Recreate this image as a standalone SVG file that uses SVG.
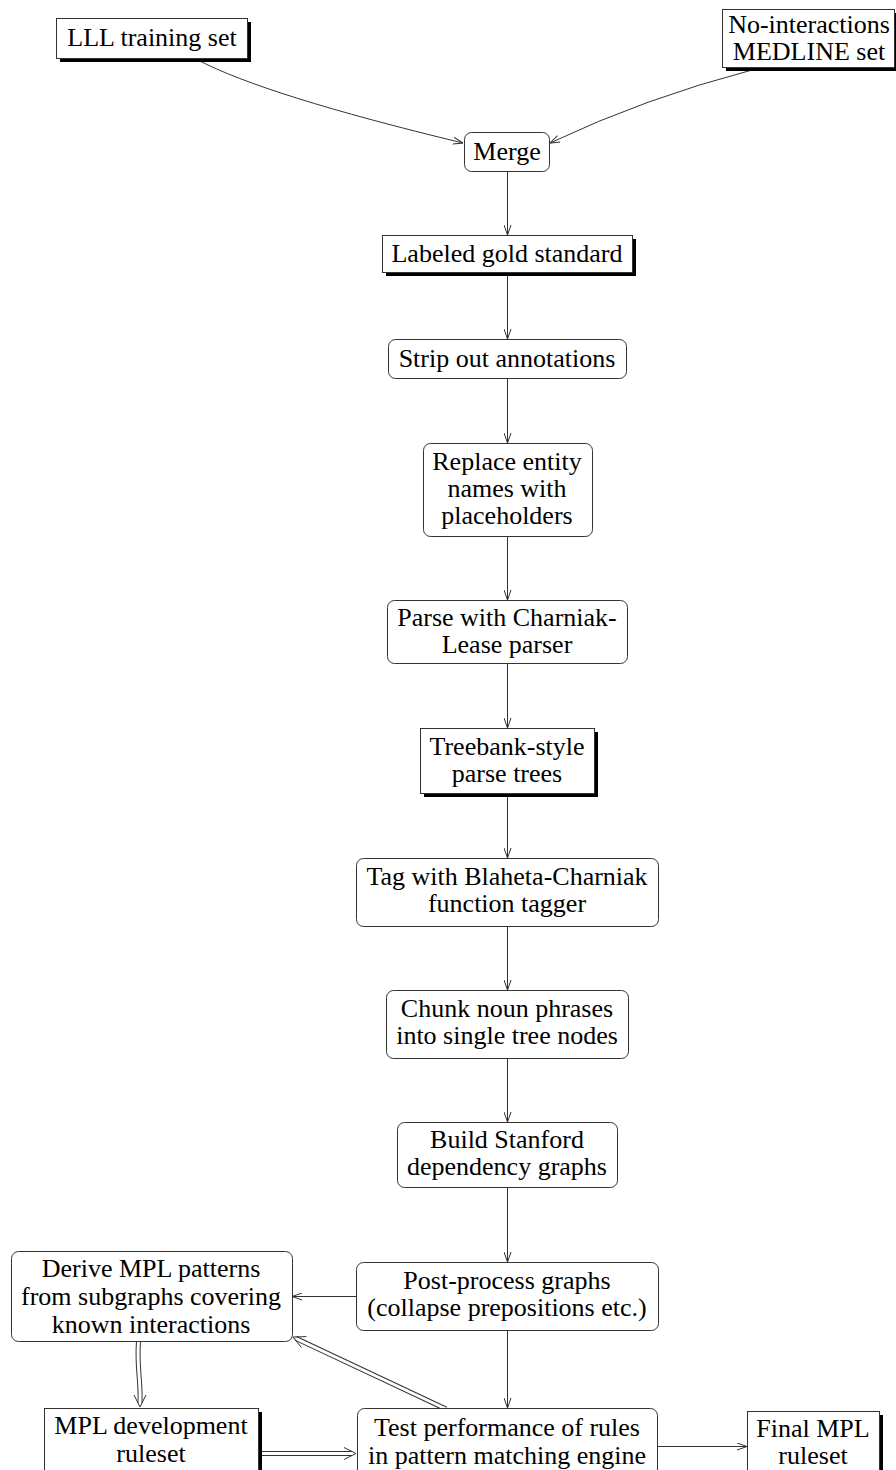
<svg xmlns="http://www.w3.org/2000/svg" width="896" height="1470" viewBox="0 0 896 1470">
  <defs>
    <style>
      .box { fill: #fff; stroke: #333; stroke-width: 1; }
      .shadow { fill: #000; }
      .lbl { font-family: "Liberation Serif", "Times New Roman", serif; font-size: 26px; fill: #000; text-anchor: middle; }
      .edge { fill: none; stroke: #333; stroke-width: 1; }
      .dbl-out { fill: none; stroke: #333; stroke-width: 5; }
      .dbl-in { fill: none; stroke: #fff; stroke-width: 3; }
      .head { fill: none; stroke: #333; stroke-width: 1; }
    </style>
    <marker id="arrow" viewBox="0 0 10 8" refX="10" refY="4" markerWidth="10" markerHeight="8" markerUnits="userSpaceOnUse" orient="auto">
      <path d="M0,0.5 L10,4 L0,7.5" fill="none" stroke="#333" stroke-width="1"/>
    </marker>
  </defs>
  <rect width="896" height="1470" fill="#fff"/>

  <!-- connectors -->
  <g id="edges">
    <path class="edge" d="M198,60 Q264,95 463,143" marker-end="url(#arrow)"/>
    <path class="edge" d="M752,70 Q645,98 550,143" marker-end="url(#arrow)"/>
    <path class="edge" d="M507.5,171 L507.5,235" marker-end="url(#arrow)"/>
    <path class="edge" d="M507.5,276 L507.5,339" marker-end="url(#arrow)"/>
    <path class="edge" d="M507.5,378 L507.5,443" marker-end="url(#arrow)"/>
    <path class="edge" d="M507.5,536 L507.5,600" marker-end="url(#arrow)"/>
    <path class="edge" d="M507.5,663 L507.5,728" marker-end="url(#arrow)"/>
    <path class="edge" d="M507.5,796 L507.5,858" marker-end="url(#arrow)"/>
    <path class="edge" d="M507.5,926 L507.5,990" marker-end="url(#arrow)"/>
    <path class="edge" d="M507.5,1058 L507.5,1122" marker-end="url(#arrow)"/>
    <path class="edge" d="M507.5,1187 L507.5,1262" marker-end="url(#arrow)"/>
    <path class="edge" d="M356,1296.5 L292,1296.5" marker-end="url(#arrow)"/>
    <path class="edge" d="M507.5,1330 L507.5,1408" marker-end="url(#arrow)"/>
    <path class="edge" d="M657,1446.5 L747,1446.5" marker-end="url(#arrow)"/>

    <!-- double-line arrows -->
    <path class="dbl-out" d="M138.5,1341 C136.5,1368 141,1380 140,1403"/>
    <path class="dbl-in" d="M138.5,1341 C136.5,1368 141,1380 140,1403"/>
    <path class="head" d="M134,1395 L140,1407 L146,1395"/>

    <path class="dbl-out" d="M262,1453.5 L352,1453.5"/>
    <path class="dbl-in" d="M262,1453.5 L352,1453.5"/>
    <path class="head" d="M344,1447.5 L356,1453.5 L344,1459.5"/>

    <path class="dbl-out" d="M446,1409 L295.7,1338.3"/>
    <path class="dbl-in" d="M446,1409 L295.7,1338.3"/>
    <path class="head" d="M306.4,1336.6 L293,1337 L301.4,1347.5"/>
  </g>

  <!-- nodes -->
  <g id="n_lll">
    <rect class="shadow" x="60" y="22" width="191" height="40"/>
    <rect class="box" x="56.5" y="18.5" width="191" height="40"/>
    <text class="lbl" x="152" y="46">LLL training set</text>
  </g>
  <g id="n_nomedline">
    <rect class="shadow" x="726" y="13" width="173" height="58"/>
    <rect class="box" x="722.5" y="9.5" width="172" height="58"/>
    <text class="lbl" x="809" y="33">No-interactions</text>
    <text class="lbl" x="809" y="60">MEDLINE set</text>
  </g>
  <g id="n_merge">
    <rect class="box" x="464.5" y="132.5" width="85" height="39" rx="7"/>
    <text class="lbl" x="507" y="160">Merge</text>
  </g>
  <g id="n_gold">
    <rect class="shadow" x="386" y="239" width="250" height="37"/>
    <rect class="box" x="382.5" y="235.5" width="250" height="37"/>
    <text class="lbl" x="507" y="262">Labeled gold standard</text>
  </g>
  <g id="n_strip">
    <rect class="box" x="388.5" y="339.5" width="238" height="39" rx="7"/>
    <text class="lbl" x="507" y="367">Strip out annotations</text>
  </g>
  <g id="n_replace">
    <rect class="box" x="423.5" y="443.5" width="169" height="93" rx="7"/>
    <text class="lbl" x="507" y="470">Replace entity</text>
    <text class="lbl" x="507" y="497">names with</text>
    <text class="lbl" x="507" y="524">placeholders</text>
  </g>
  <g id="n_parse">
    <rect class="box" x="387.5" y="600.5" width="240" height="63" rx="7"/>
    <text class="lbl" x="507" y="626">Parse with Charniak-</text>
    <text class="lbl" x="507" y="653">Lease parser</text>
  </g>
  <g id="n_treebank">
    <rect class="shadow" x="424" y="732" width="174" height="65"/>
    <rect class="box" x="420.5" y="728.5" width="174" height="65"/>
    <text class="lbl" x="507" y="755">Treebank-style</text>
    <text class="lbl" x="507" y="782">parse trees</text>
  </g>
  <g id="n_tag">
    <rect class="box" x="356.5" y="858.5" width="302" height="68" rx="7"/>
    <text class="lbl" x="507" y="885">Tag with Blaheta-Charniak</text>
    <text class="lbl" x="507" y="912">function tagger</text>
  </g>
  <g id="n_chunk">
    <rect class="box" x="386.5" y="990.5" width="242" height="68" rx="7"/>
    <text class="lbl" x="507" y="1017">Chunk noun phrases</text>
    <text class="lbl" x="507" y="1044">into single tree nodes</text>
  </g>
  <g id="n_build">
    <rect class="box" x="397.5" y="1122.5" width="220" height="65" rx="7"/>
    <text class="lbl" x="507" y="1148">Build Stanford</text>
    <text class="lbl" x="507" y="1175">dependency graphs</text>
  </g>
  <g id="n_post">
    <rect class="box" x="356.5" y="1262.5" width="302" height="68" rx="7"/>
    <text class="lbl" x="507" y="1289">Post-process graphs</text>
    <text class="lbl" x="507" y="1316">(collapse prepositions etc.)</text>
  </g>
  <g id="n_derive">
    <rect class="box" x="11.5" y="1251.5" width="281" height="90" rx="7"/>
    <text class="lbl" x="151" y="1277">Derive MPL patterns</text>
    <text class="lbl" x="151" y="1305">from subgraphs covering</text>
    <text class="lbl" x="151" y="1333">known interactions</text>
  </g>
  <g id="n_mpldev">
    <rect class="shadow" x="48" y="1412" width="214" height="70"/>
    <rect class="box" x="44.5" y="1408.5" width="214" height="70"/>
    <text class="lbl" x="151" y="1434">MPL development</text>
    <text class="lbl" x="151" y="1462">ruleset</text>
  </g>
  <g id="n_test">
    <rect class="box" x="357.5" y="1408.5" width="300" height="70" rx="7"/>
    <text class="lbl" x="507" y="1436">Test performance of rules</text>
    <text class="lbl" x="507" y="1464">in pattern matching engine</text>
  </g>
  <g id="n_final">
    <rect class="shadow" x="751" y="1415" width="132" height="66"/>
    <rect class="box" x="747.5" y="1411.5" width="132" height="66"/>
    <text class="lbl" x="813" y="1437">Final MPL</text>
    <text class="lbl" x="813" y="1464">ruleset</text>
  </g>
</svg>
